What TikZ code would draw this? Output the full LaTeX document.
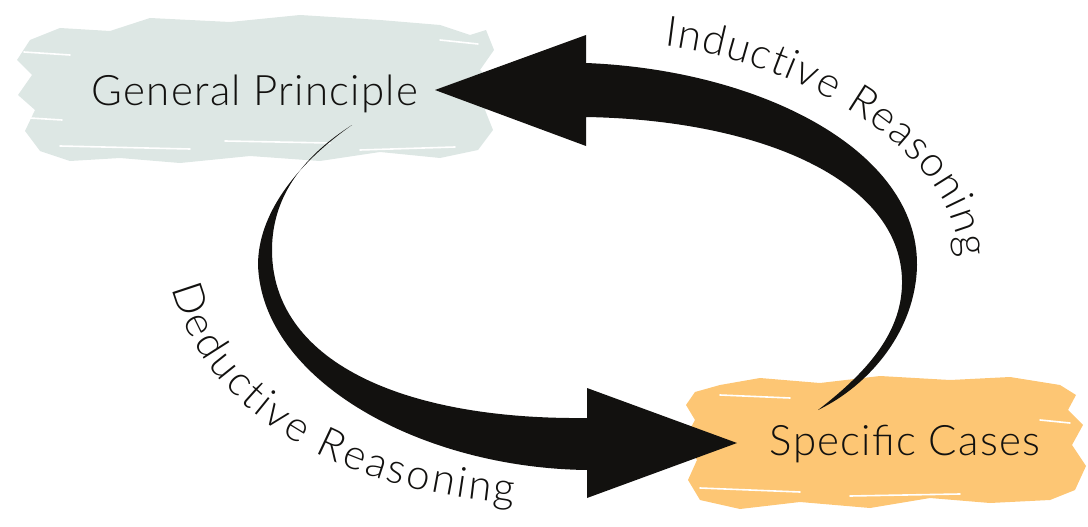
\documentclass[tikz,border=0pt]{standalone}
\usepackage{fontspec}
\setmainfont{Lato}[UprightFont=* Light, LetterSpace=3]
\newfontfamily\arcfamily{Lato}[UprightFont=* Light]
\usetikzlibrary{decorations.text}
\definecolor{brushgrey}{HTML}{DDE7E4}
\definecolor{brushorange}{HTML}{FDC674}
\definecolor{arrowblack}{HTML}{12110F}
\newcommand{\bigfont}{\fontsize{42}{50}\selectfont}
\tikzset{
  bigarrow/.style={fill=arrowblack},
  boxtext/.style={font=\bigfont, text=arrowblack, inner sep=0pt, anchor=base},
  streak/.style={draw=white, line width=1.6pt, line cap=round},
  arctext/.style={decorate, decoration={text along path, text color=arrowblack,
      text align=fit to path, text format delimiters={|}{|},
      text={|\arcfamily\bigfont|#1}}},
}

\begin{document}
\begin{tikzpicture}[x=1pt, y=-1pt]
  \useasboundingbox (0,0) rectangle (1088,527);

  % brush strokes
  \fill[brushgrey] (30,40) -- (60,28) -- (110,31) -- (150,18) -- (230,22) -- (300,15)
    -- (380,20) -- (440,25) -- (470,35) -- (486,30) -- (494,50) -- (480,70) -- (497,86)
    -- (485,110) -- (493,130) -- (478,150) -- (440,158) -- (380,152) -- (320,161)
    -- (250,156) -- (180,163) -- (120,158) -- (70,161) -- (40,151) -- (25,131)
    -- (35,110) -- (18,95) -- (32,75) -- (17,60) -- cycle;
  \draw[streak] (60,146) -- (190,149);
  \draw[streak] (225,141) -- (330,143);
  \draw[streak] (360,150) -- (455,147);
  \draw[streak] (24,52) -- (70,55);
  \draw[streak] (30,118) -- (62,120);
  \draw[streak] (440,40) -- (478,44);

  \fill[brushorange] (695,392) -- (720,385) -- (760,378) -- (820,383) -- (880,376)
    -- (950,380) -- (1010,377) -- (1060,385) -- (1076,395) -- (1068,410) -- (1083,425)
    -- (1072,445) -- (1086,466) -- (1075,490) -- (1050,500) -- (990,503) -- (930,498)
    -- (870,508) -- (800,502) -- (740,509) -- (700,500) -- (688,480) -- (697,460)
    -- (684,440) -- (695,420) -- (686,405) -- cycle;
  \draw[streak] (720,395) -- (790,398);
  \draw[streak] (700,488) -- (800,492);
  \draw[streak] (850,496) -- (960,494);
  \draw[streak] (1040,420) -- (1070,423);

  % labels
  \node[boxtext] (gp) at (255,106) {General Principle};
  \node[boxtext] (sc) at (905,455) {Specific Cases};

  % inductive arrow
  \fill[bigarrow] (586,63) .. controls (760,70) and (918,150) .. (917,265)
    .. controls (916,330) and (870,385) .. (818,410)
    .. controls (870,370) and (903,330) .. (902,280)
    .. controls (900,180) and (760,120) .. (586,117)
    -- (586,146) -- (435,90) -- (586,35) -- cycle;

  % deductive arrow
  \fill[bigarrow] (352,125) .. controls (295,165) and (258,215) .. (258,265)
    .. controls (262,380) and (420,468) .. (587,470)
    -- (587,498) -- (737,443) -- (587,388) -- (587,418)
    .. controls (400,420) and (272,360) .. (272,250)
    .. controls (272,195) and (305,155) .. (352,125) -- cycle;

  \path[arctext={Inductive Reasoning}] (664,46) .. controls (800,62) and (955,150) .. (960,258);
  \path[arctext={Deductive Reasoning}] (172,288) .. controls (200,400) and (320,490) .. (514,503);
\end{tikzpicture}
\end{document}
